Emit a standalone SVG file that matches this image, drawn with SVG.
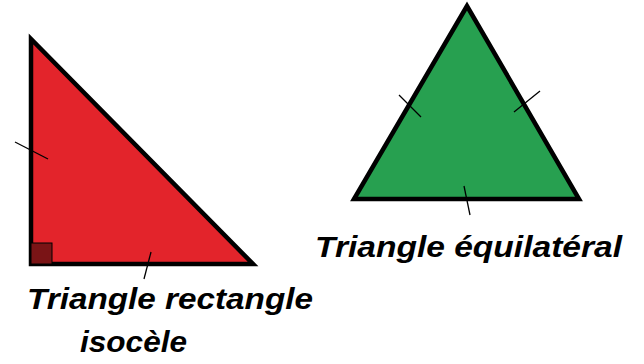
<svg xmlns="http://www.w3.org/2000/svg" width="644" height="364" viewBox="0 0 644 364">
<style>
.tri{stroke:#000;stroke-width:4.5;stroke-linejoin:miter}
.tick{stroke:#000;stroke-width:1.3;fill:none}
.lbl{font-family:"Liberation Sans",Arial,sans-serif;font-weight:bold;font-style:italic;font-size:29px;fill:#000}
</style>
<rect width="644" height="364" fill="#fff"/>
<g id="triangle-rectangle">
<polygon class="tri" points="31,39 31,264 253,264" fill="#E3242B"/>
<rect x="31" y="243" width="21" height="21" fill="#7A1416" stroke="#000" stroke-width="1"/>
<line class="tick" x1="15" y1="142" x2="48" y2="159"/>
<line class="tick" x1="151" y1="252" x2="144" y2="279"/>
<text class="lbl" x="27" y="309" textLength="286" lengthAdjust="spacingAndGlyphs">Triangle rectangle</text>
<text class="lbl" x="80" y="352" textLength="107" lengthAdjust="spacingAndGlyphs">isocèle</text>
</g>
<g id="triangle-equilateral">
<polygon class="tri" points="467,6 354,199 579,199" fill="#27A050"/>
<line class="tick" x1="399" y1="95" x2="421" y2="117"/>
<line class="tick" x1="540" y1="91" x2="514" y2="112"/>
<line class="tick" x1="464" y1="186" x2="470" y2="215"/>
<text class="lbl" x="315" y="257" textLength="307" lengthAdjust="spacingAndGlyphs">Triangle équilatéral</text>
</g>
<g id="connectors"/>
</svg>
